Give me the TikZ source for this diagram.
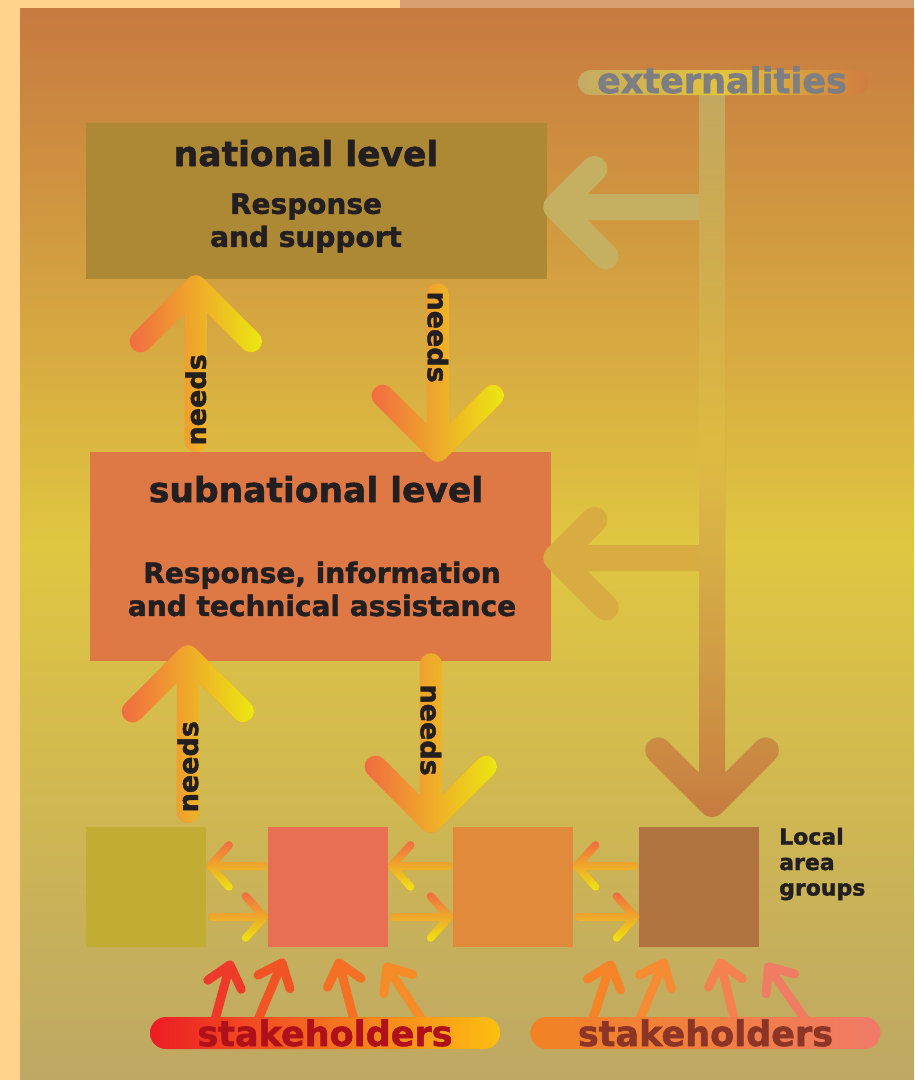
\documentclass[tikz,border=0pt]{standalone}
\usepackage{fontspec}
\setmainfont{DejaVu Sans}[BoldFeatures={FakeBold=1.6}]
\usepackage{tikz}
\usetikzlibrary{calc,fadings,shapes.misc}

\definecolor{paper}{RGB}{255,211,142}
\definecolor{papertop}{RGB}{216,158,112}
\definecolor{bgtop}{RGB}{199,122,64}
\definecolor{bgmid}{RGB}{224,198,65}
\definecolor{bgbot}{RGB}{190,168,100}
\definecolor{natcol}{RGB}{173,137,53}
\definecolor{subcol}{RGB}{222,120,68}
\definecolor{grpAcol}{RGB}{193,172,52}
\definecolor{grpBcol}{RGB}{233,111,82}
\definecolor{grpCcol}{RGB}{225,138,60}
\definecolor{grpDcol}{RGB}{177,116,65}
\definecolor{ink}{RGB}{35,31,32}
\definecolor{hotL}{RGB}{242,108,66}
\definecolor{hotR}{RGB}{236,232,18}
\definecolor{extA}{RGB}{194,170,100}
\definecolor{extB}{RGB}{222,188,66}
\definecolor{extC}{RGB}{200,124,64}
\definecolor{extD}{RGB}{196,176,96}
\definecolor{extE}{RGB}{216,172,64}
\definecolor{extPa}{RGB}{196,170,100}
\definecolor{extPb}{RGB}{228,196,58}
\definecolor{extPc}{RGB}{208,124,64}
\definecolor{extgrey}{RGB}{125,126,130}
\definecolor{spA}{RGB}{238,58,40}
\definecolor{spB}{RGB}{240,84,36}
\definecolor{spC}{RGB}{243,112,36}
\definecolor{spD}{RGB}{246,140,40}
\definecolor{spE}{RGB}{245,132,40}
\definecolor{spF}{RGB}{245,140,52}
\definecolor{spG}{RGB}{243,130,80}
\definecolor{spH}{RGB}{240,124,100}
\definecolor{stkLa}{RGB}{237,28,36}
\definecolor{stkLb}{RGB}{245,110,32}
\definecolor{stkLc}{RGB}{253,190,18}
\definecolor{stkLtext}{RGB}{176,16,26}
\definecolor{stkRa}{RGB}{242,130,36}
\definecolor{stkRb}{RGB}{242,128,64}
\definecolor{stkRc}{RGB}{240,122,104}
\definecolor{stkRtext}{RGB}{140,52,38}

\tikzfading[name=toright, left color=transparent!100, right color=transparent!0]
\tikzfading[name=todown, top color=transparent!100, bottom color=transparent!0]
\tikzfading[name=tomid, top color=transparent!100, bottom color=transparent!100, middle color=transparent!0]

\pgfdeclarelayer{under}
\pgfsetlayers{under,main}

\begin{document}
\begin{tikzpicture}[x=1pt, y=-1pt,
    level/.style={rectangle, inner sep=0pt, minimum width=461pt},
    group/.style={rectangle, inner sep=0pt, minimum size=120pt},
    head/.style={inner sep=0pt, text=ink, font=\bfseries\fontsize{34.5}{40}\selectfont},
    body/.style={inner sep=0pt, text=ink, align=center, font=\bfseries\fontsize{28}{33}\selectfont},
    note/.style={inner sep=0pt, text=ink, align=left, font=\bfseries\fontsize{22}{25.5}\selectfont},
    needs/.style={inner sep=0pt, text=ink, font=\bfseries\fontsize{27}{30}\selectfont},
    pill/.style={rounded rectangle, inner sep=0pt, minimum width=350pt, minimum height=32pt,
      font=\bfseries\fontsize{35}{40}\selectfont},
    fat/.style={line width=22pt, line cap=round, line join=round},
    hot/.style={fat, draw=hotL, postaction={draw=hotR, path fading=toright}},
    twig/.style={line width=8pt, line cap=round, line join=round, draw=hotL,
      postaction={draw=hotR, path fading=todown}},
    branch/.style={line width=26pt, line cap=round, line join=round},
    ext/.style={branch, draw=extA, postaction={draw=extC, path fading=todown},
      postaction={draw=extB, path fading=tomid}},
    spike/.style={line width=9pt, line cap=round, line join=round}]

  \useasboundingbox (0,0) rectangle (914,1080);

  % page and panel
  \begin{pgfonlayer}{under}
    \fill[paper] (0,0) rectangle (914,1080);
    \fill[papertop] (400,0) rectangle (914,8);
    \shade[top color=bgtop, bottom color=bgbot, middle color=bgmid] (20,8) rectangle (914,1080);
  \end{pgfonlayer}

  % the levels
  \node[level, minimum height=156pt, fill=natcol] (nat) at (316.5,201) {};
  \node[level, minimum height=209pt, fill=subcol] (sub) at (320.5,556.5) {};
  \node[group, fill=grpAcol] (grpA) at (146,887) {};
  \node[group, fill=grpBcol] (grpB) at (327.5,887) {};
  \node[group, fill=grpCcol] (grpC) at (512.5,887) {};
  \node[group, fill=grpDcol] (grpD) at (698.5,887) {};

  \node[head, anchor=base] (natT) at (306,166) {national level};
  \node[body] (natB) at (306,223) {Response\\and support};
  \node[head, anchor=base] (subT) at (316,502) {subnational level};
  \node[body] (subB) at (322,589) {Response, information\\and technical assistance};
  \node[note, anchor=north west] (grpT) at (779,827.6) {Local\\area\\groups};

  % externalities
  \coordinate (extfoot) at (712,90);
  \coordinate (exttip) at ($(grpD.north)+(13.5,-23)$);
  \coordinate (ext1) at ($(extfoot |- nat.east)+(0,6)$);
  \coordinate (ext1tip) at ($(nat.east)+(9,6)$);
  \coordinate (ext2) at ($(extfoot |- sub.east)+(0,1.5)$);
  \coordinate (ext2tip) at ($(sub.east)+(5,1.5)$);
  \draw[branch, draw=extD] (ext1) -- (ext1tip)
    ($(ext1tip)!54pt!45:(ext1)$) -- (ext1tip) -- ($(ext1tip)!70pt!-45:(ext1)$);
  \draw[branch, draw=extE] (ext2) -- (ext2tip)
    ($(ext2tip)!54pt!45:(ext2)$) -- (ext2tip) -- ($(ext2tip)!70pt!-45:(ext2)$);
  \draw[ext] (extfoot) -- (exttip)
    ($(exttip)!76pt!45:(extfoot)$) -- (exttip) -- ($(exttip)!76pt!-45:(extfoot)$);
  \node[rounded rectangle, inner sep=0pt, minimum width=290pt, minimum height=25pt,
    left color=extPa, right color=extPc, middle color=extPb] (extbar) at (723,82.5) {};
  \node[anchor=base, inner sep=0pt, text=extgrey, font=\bfseries\fontsize{35}{40}\selectfont]
    (extlbl) at (722,93) {externalities};

  % needs
  \coordinate (up1a) at ($(sub.north west)+(106,-11)$);
  \coordinate (up1b) at ($(nat.south west)+(110,7)$);
  \draw[hot] (up1a) -- (up1b) ($(up1b)!78pt!45:(up1a)$) -- (up1b) -- ($(up1b)!78pt!-45:(up1a)$);
  \node[needs, rotate=90] (nd1) at ($(up1a)!0.265!(up1b)$) {needs};

  \coordinate (dn1a) at ($(nat.south west)+(352,15)$);
  \coordinate (dn1b) at ($(sub.north west)+(348,-1)$);
  \draw[hot] (dn1a) -- (dn1b) ($(dn1b)!78pt!45:(dn1a)$) -- (dn1b) -- ($(dn1b)!78pt!-45:(dn1a)$);
  \node[needs, rotate=-90] (nd2) at ($(dn1a)!0.274!(dn1b)$) {needs};

  \coordinate (up2a) at ($(grpA.north)+(42,-15)$);
  \coordinate (up2b) at ($(sub.south west)+(98,-5)$);
  \draw[hot] (up2a) -- (up2b) ($(up2b)!78pt!45:(up2a)$) -- (up2b) -- ($(up2b)!78pt!-45:(up2a)$);
  \node[needs, rotate=90] (nd3) at ($(up2a)!0.29!(up2b)$) {needs};

  \coordinate (dn2a) at ($(sub.south west)+(341,3)$);
  \coordinate (dn2b) at ($(grpC.north west)+(-21.5,-5)$);
  \draw[hot] (dn2a) -- (dn2b) ($(dn2b)!78pt!45:(dn2a)$) -- (dn2b) -- ($(dn2b)!78pt!-45:(dn2a)$);
  \node[needs, rotate=-90] (nd4) at ($(dn2a)!0.418!(dn2b)$) {needs};

  % between the groups
  \foreach \l/\r in {grpA/grpB, grpB/grpC, grpC/grpD}{
    \coordinate (bk1) at ($(\r.west)+(-4,-21)$);
    \coordinate (bk2) at ($(\l.east)+(4,-21)$);
    \draw[twig] (bk1) -- (bk2) ($(bk2)!28pt!48:(bk1)$) -- (bk2) -- ($(bk2)!28pt!-48:(bk1)$);
    \coordinate (fw1) at ($(\l.east)+(6,30)$);
    \coordinate (fw2) at ($(\r.west)+(-3,30)$);
    \draw[twig] (fw1) -- (fw2) ($(fw2)!28pt!48:(fw1)$) -- (fw2) -- ($(fw2)!28pt!-48:(fw1)$);
  }

  % stakeholders
  \node[pill, left color=stkLa, right color=stkLc, middle color=stkLb, text=stkLtext]
    (stakeL) at (325,1033) {stakeholders};
  \node[pill, left color=stkRa, right color=stkRc, middle color=stkRb, text=stkRtext]
    (stakeR) at (705.5,1033) {stakeholders};

  \begin{pgfonlayer}{under}
    \foreach \bx/\tx/\ty/\c [count=\i] in {49/15/-55/spA, 92/24/-57/spB, 188/-15/-57/spC, 256/-35/-53/spD}{
      \coordinate (sb\i) at ($(stakeL.north west)+(\bx,3)$);
      \coordinate (st\i) at ($(sb\i)+(\tx,\ty)$);
      \draw[spike, draw=\c] (sb\i) -- (st\i) ($(st\i)!27pt!40:(sb\i)$) -- (st\i) -- ($(st\i)!27pt!-40:(sb\i)$);
    }
    \foreach \bx/\tx/\ty/\c [count=\i] in {46/18/-55/spE, 93/24/-57/spF, 188/-14/-57/spG, 259/-37/-53/spH}{
      \coordinate (rb\i) at ($(stakeR.north west)+(\bx,3)$);
      \coordinate (rt\i) at ($(rb\i)+(\tx,\ty)$);
      \draw[spike, draw=\c] (rb\i) -- (rt\i) ($(rt\i)!27pt!40:(rb\i)$) -- (rt\i) -- ($(rt\i)!27pt!-40:(rb\i)$);
    }
  \end{pgfonlayer}
\end{tikzpicture}
\end{document}
